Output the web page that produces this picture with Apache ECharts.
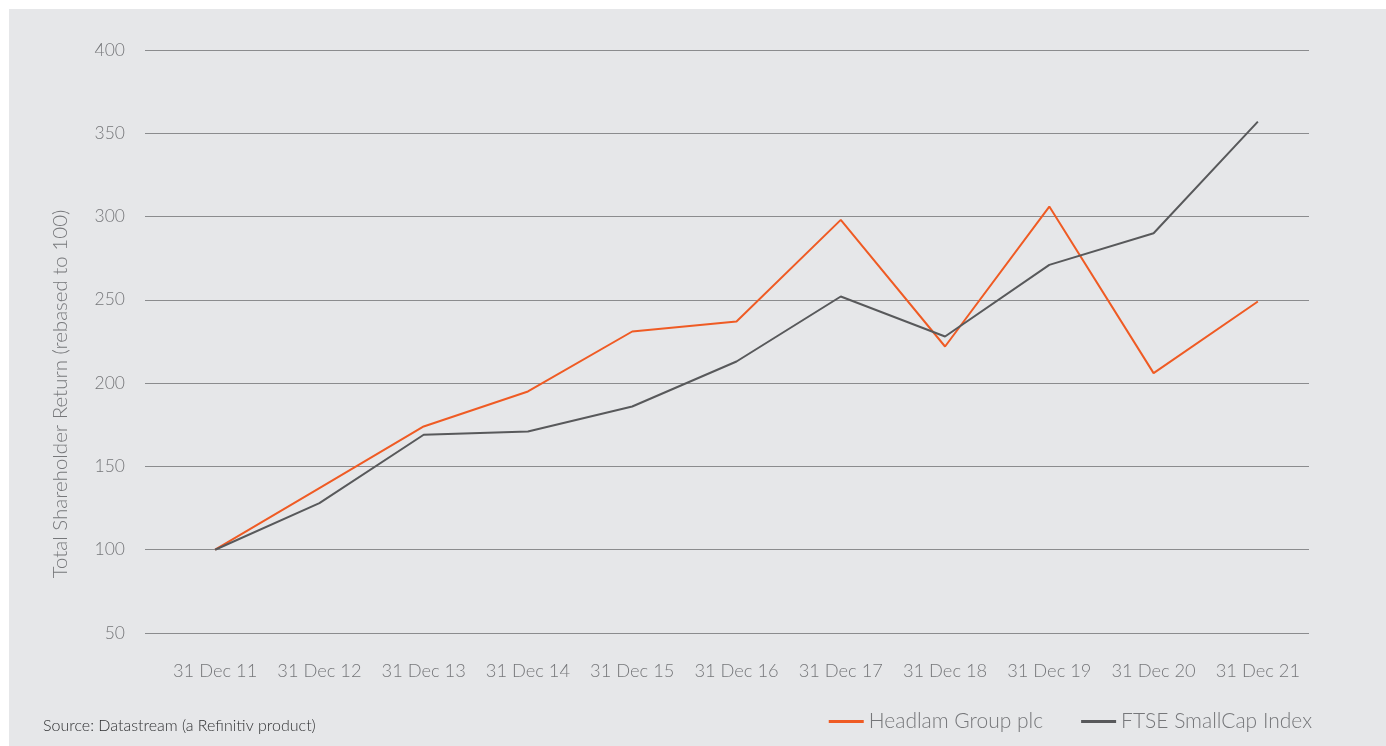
<!DOCTYPE html>
<html>
<head>
<meta charset="utf-8">
<script src="https://cdn.jsdelivr.net/npm/echarts@6/dist/echarts.min.js"></script>
<style>
  html, body { margin: 0; padding: 0; background: #ffffff; }
  #chart { position: absolute; left: 9px; top: 9px; width: 1377px; height: 737px; background: #e6e7e9; }
</style>
</head>
<body>
<div id="chart"></div>
<script>
// years on the x axis
const categories = ["31 Dec 11", "31 Dec 12", "31 Dec 13", "31 Dec 14", "31 Dec 15", "31 Dec 16",
  "31 Dec 17", "31 Dec 18", "31 Dec 19", "31 Dec 20", "31 Dec 21"];
const headlam = [100, 137, 174, 195, 231, 237, 298, 222, 306, 206, 249];
const ftseSmallCap = [100, 128, 169, 171, 186, 213, 252, 228, 271, 290, 357];
const yTicks = [50, 100, 150, 200, 250, 300, 350, 400];

const textGrey = "#76777a";
const fontFam = "Lato, 'Open Sans', sans-serif";

const chart = echarts.init(document.getElementById("chart"));
// chart div is offset by 9px, so grid numbers below are page coords minus 9
const option = {
  animation: false,
  grid: [
    { left: 136, right: 77, top: 41, bottom: 113 },  // gridlines only
    { left: 154, right: 76, top: 41, bottom: 113 },  // series + labels
  ],
  xAxis: [
    { gridIndex: 0, type: "value", show: false, min: 0, max: 1 },
    {
      gridIndex: 1,
      type: "category",
      data: categories,
      boundaryGap: true,
      axisLine: { show: false },
      axisTick: { show: false },
      axisLabel: { interval: 0, color: textGrey, fontSize: 18.3, fontFamily: fontFam, fontWeight: 300, margin: 29 },
    },
  ],
  yAxis: [
    {
      gridIndex: 0,
      type: "value",
      min: yTicks[0],
      max: yTicks[yTicks.length - 1],
      interval: 50,
      axisLine: { show: false },
      axisTick: { show: false },
      axisLabel: { color: textGrey, fontSize: 17.5, fontFamily: fontFam, fontWeight: 300, margin: 20 },
      splitLine: { lineStyle: { color: "#8b8c8e", width: 1 } },
    },
    {
      gridIndex: 1,
      type: "value",
      min: yTicks[0],
      max: yTicks[yTicks.length - 1],
      interval: 50,
      show: false,
      splitLine: { show: false },
    },
  ],
  legend: {
    right: 74,
    top: 702,
    padding: 0,
    itemWidth: 35,
    itemHeight: 3,
    itemGap: 38,
    icon: "rect",
    textStyle: { color: textGrey, fontSize: 21, fontFamily: fontFam, fontWeight: 300 },
    data: ["Headlam Group plc", "FTSE SmallCap Index"],
  },
  graphic: [
    {
      type: "text",
      left: 34,
      top: 718 - 9,
      style: {
        text: "Source: Datastream (a Refinitiv product)",
        fill: "#2f3032",
        font: "300 16px " + fontFam,
      },
    },
    {
      type: "text",
      x: 60 - 9,
      y: 394 - 9,
      rotation: Math.PI / 2,
      style: {
        text: "Total Shareholder Return (rebased to 100)",
        fill: textGrey,
        font: "300 20.5px " + fontFam,
        align: "center",
        verticalAlign: "middle",
      },
    },
  ],
  series: [
    {
      name: "Headlam Group plc",
      type: "line",
      xAxisIndex: 1,
      yAxisIndex: 1,
      data: headlam,
      symbol: "none",
      lineStyle: { color: "#ef5b24", width: 2 },
      itemStyle: { color: "#ef5b24" },
    },
    {
      name: "FTSE SmallCap Index",
      type: "line",
      xAxisIndex: 1,
      yAxisIndex: 1,
      data: ftseSmallCap,
      symbol: "none",
      lineStyle: { color: "#58595b", width: 2 },
      itemStyle: { color: "#58595b" },
    },
  ],
};
chart.setOption(option);
</script>
</body>
</html>
